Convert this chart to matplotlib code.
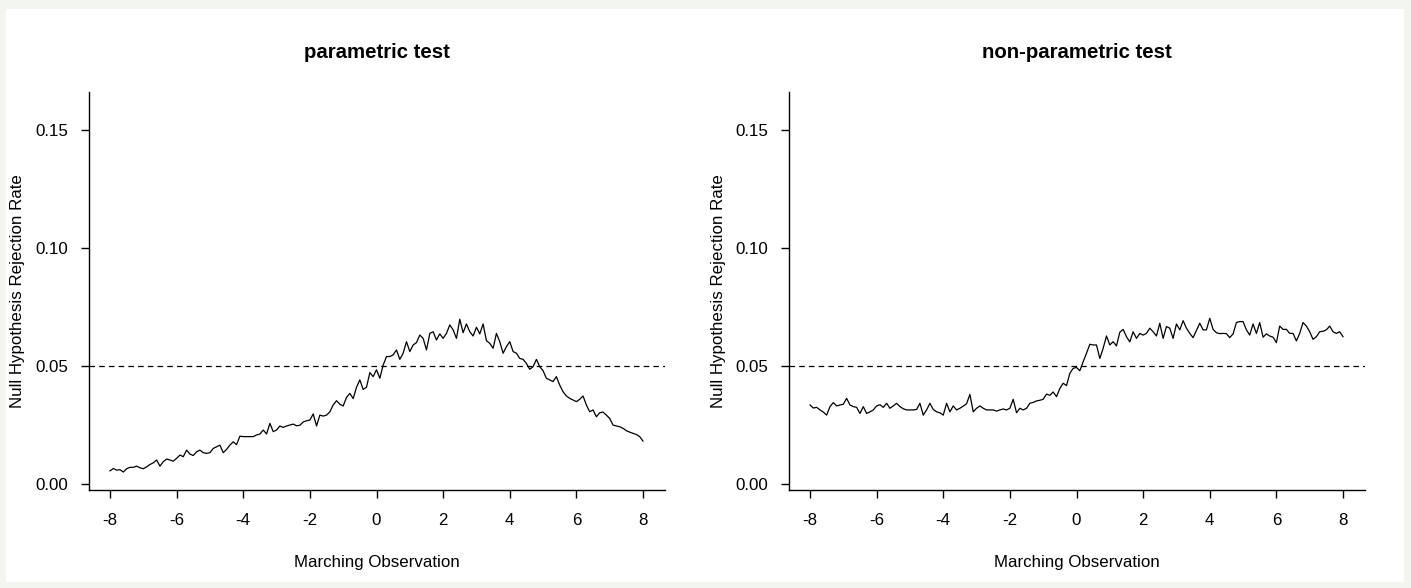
import numpy as np
import matplotlib
matplotlib.use("Agg")
import matplotlib.pyplot as plt
from matplotlib.patches import Rectangle

plt.rcParams['font.family'] = ['Liberation Sans', 'DejaVu Sans']
plt.rcParams['lines.scale_dashes'] = False

# Marching observation grid (-8 .. 8, step 0.1)
marching = np.linspace(-8, 8, 161)

# Null hypothesis rejection rates, parametric test
parametric_rate = [
    0.0056, 0.0066, 0.0059, 0.0061, 0.0051, 0.0065, 0.0071, 0.0071, 0.0076, 0.0069,
    0.0065, 0.0073, 0.0083, 0.0090, 0.0102, 0.0076, 0.0095, 0.0106, 0.0102, 0.0097,
    0.0109, 0.0123, 0.0116, 0.0144, 0.0127, 0.0121, 0.0137, 0.0144, 0.0133, 0.0130,
    0.0133, 0.0151, 0.0158, 0.0165, 0.0133, 0.0147, 0.0165, 0.0179, 0.0167, 0.0203,
    0.0201, 0.0201, 0.0201, 0.0201, 0.0208, 0.0212, 0.0229, 0.0212, 0.0257, 0.0222,
    0.0229, 0.0246, 0.0240, 0.0246, 0.0250, 0.0254, 0.0247, 0.0249, 0.0263, 0.0268,
    0.0271, 0.0297, 0.0246, 0.0292, 0.0288, 0.0292, 0.0306, 0.0335, 0.0353, 0.0338,
    0.0331, 0.0367, 0.0384, 0.0362, 0.0410, 0.0441, 0.0401, 0.0410, 0.0472, 0.0455,
    0.0484, 0.0448, 0.0504, 0.0540, 0.0540, 0.0547, 0.0568, 0.0528, 0.0554, 0.0603,
    0.0561, 0.0589, 0.0599, 0.0631, 0.0617, 0.0568, 0.0638, 0.0645, 0.0610, 0.0636,
    0.0617, 0.0638, 0.0674, 0.0653, 0.0617, 0.0698, 0.0641, 0.0678, 0.0645, 0.0627,
    0.0664, 0.0636, 0.0678, 0.0607, 0.0596, 0.0575, 0.0638, 0.0603, 0.0554, 0.0582,
    0.0603, 0.0561, 0.0554, 0.0532, 0.0528, 0.0511, 0.0486, 0.0497, 0.0528, 0.0497,
    0.0480, 0.0448, 0.0441, 0.0434, 0.0455, 0.0419, 0.0391, 0.0373, 0.0363, 0.0356,
    0.0349, 0.0359, 0.0373, 0.0335, 0.0306, 0.0314, 0.0285, 0.0302, 0.0305, 0.0292,
    0.0278, 0.0250, 0.0246, 0.0243, 0.0236, 0.0226, 0.0220, 0.0215, 0.0210, 0.0201,
    0.0182,
]

# Null hypothesis rejection rates, non-parametric test
nonparametric_rate = [
    0.0335, 0.0322, 0.0325, 0.0314, 0.0305, 0.0292, 0.0328, 0.0345, 0.0331, 0.0335,
    0.0338, 0.0363, 0.0335, 0.0328, 0.0325, 0.0299, 0.0328, 0.0299, 0.0306, 0.0314,
    0.0331, 0.0336, 0.0325, 0.0342, 0.0321, 0.0331, 0.0342, 0.0328, 0.0319, 0.0314,
    0.0314, 0.0314, 0.0316, 0.0342, 0.0292, 0.0314, 0.0342, 0.0316, 0.0306, 0.0302,
    0.0292, 0.0342, 0.0306, 0.0331, 0.0314, 0.0321, 0.0330, 0.0340, 0.0380, 0.0306,
    0.0321, 0.0331, 0.0321, 0.0314, 0.0314, 0.0314, 0.0309, 0.0314, 0.0318, 0.0314,
    0.0321, 0.0359, 0.0302, 0.0321, 0.0314, 0.0321, 0.0342, 0.0346, 0.0352, 0.0355,
    0.0359, 0.0381, 0.0376, 0.0390, 0.0370, 0.0405, 0.0427, 0.0417, 0.0469, 0.0490,
    0.0494, 0.0480, 0.0518, 0.0554, 0.0592, 0.0589, 0.0589, 0.0532, 0.0575, 0.0627,
    0.0589, 0.0603, 0.0585, 0.0643, 0.0655, 0.0624, 0.0602, 0.0645, 0.0617, 0.0638,
    0.0631, 0.0638, 0.0660, 0.0645, 0.0627, 0.0681, 0.0617, 0.0667, 0.0660, 0.0617,
    0.0678, 0.0653, 0.0692, 0.0660, 0.0638, 0.0620, 0.0650, 0.0681, 0.0653, 0.0653,
    0.0702, 0.0655, 0.0641, 0.0637, 0.0638, 0.0637, 0.0620, 0.0636, 0.0684, 0.0688,
    0.0688, 0.0653, 0.0631, 0.0678, 0.0638, 0.0684, 0.0622, 0.0636, 0.0627, 0.0622,
    0.0599, 0.0669, 0.0655, 0.0655, 0.0638, 0.0638, 0.0606, 0.0638, 0.0684, 0.0669,
    0.0645, 0.0613, 0.0624, 0.0645, 0.0647, 0.0653, 0.0669, 0.0645, 0.0638, 0.0645,
    0.0624,
]

panel_titles = ["parametric test", "non-parametric test"]
x_ticks = [-8, -6, -4, -2, 0, 2, 4, 6, 8]
y_ticks = [0.00, 0.05, 0.10, 0.15]
nominal_level = 0.05

W, H = 1411, 588
fig = plt.figure(figsize=(W / 100, H / 100), dpi=100)
fig.patch.set_facecolor("#f3f6ee")
fig.patches.append(Rectangle((6 / W, 6 / H), 1398 / W, 573 / H,
                             transform=fig.transFigure, facecolor="white",
                             edgecolor="none", zorder=-10))

fs = 12.2
lefts = [89, 789]
plot_w, plot_top, plot_bottom = 576, 92, 490

for k, (rate, title) in enumerate(zip([parametric_rate, nonparametric_rate], panel_titles)):
    left = lefts[k]
    ax = fig.add_axes([left / W, (H - plot_bottom) / H, plot_w / W, (plot_bottom - plot_top) / H])
    ax.set_facecolor("none")
    ax.plot(marching, rate, color="black", lw=0.9)
    ax.axhline(nominal_level, color="black", lw=0.9, linestyle=(0, (4, 3)))
    ax.set_xlim(-8.63, 8.66)
    ax.set_ylim(-0.0025, 0.166)
    ax.set_xticks(x_ticks)
    ax.set_xticklabels([f"{t:d}" for t in x_ticks])
    ax.set_yticks(y_ticks)
    ax.set_yticklabels([f"{t:.2f}" for t in y_ticks])
    for side in ("top", "right"):
        ax.spines[side].set_visible(False)
    for side in ("left", "bottom"):
        ax.spines[side].set_linewidth(1.0)
    ax.tick_params(axis="both", direction="out", length=5.5, width=1.0,
                   labelsize=fs, colors="black")
    ax.tick_params(axis="x", pad=11)
    ax.tick_params(axis="y", pad=9.5)
    cx = (left + plot_w / 2) / W
    fig.text(cx, (H - 52) / H, title, ha="center", va="center",
             fontsize=14.7, fontweight="bold")
    fig.text(cx, (H - 562) / H, "Marching Observation", ha="center", va="center",
             fontsize=fs)
    fig.text((left - 71) / W, (H - 291) / H, "Null Hypothesis Rejection Rate",
             ha="center", va="center", rotation=90, fontsize=fs)

fig.savefig("out.png", dpi=100, facecolor=fig.get_facecolor())
